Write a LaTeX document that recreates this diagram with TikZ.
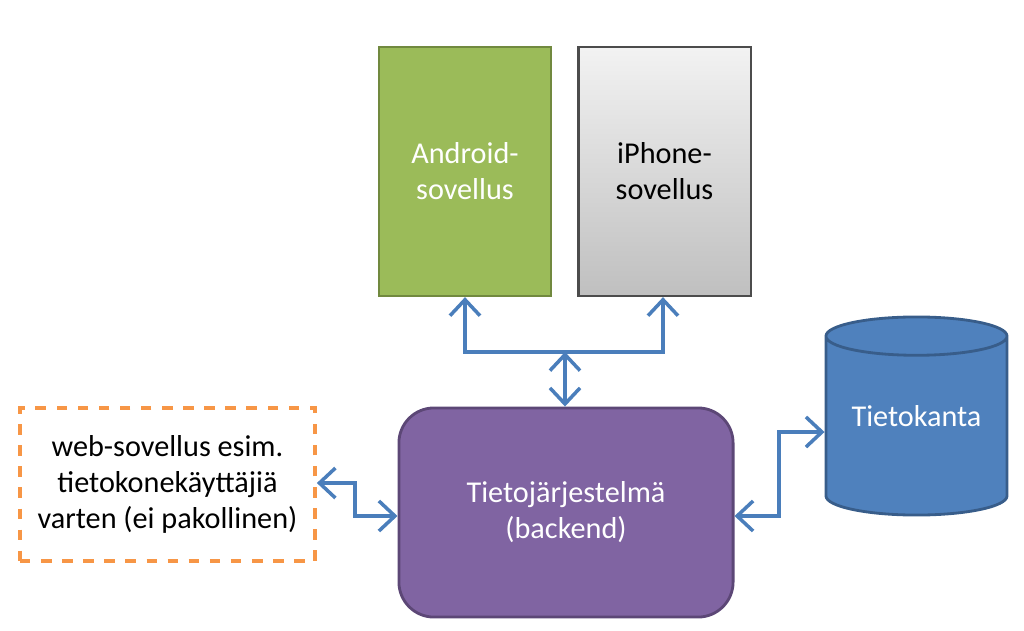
\documentclass[tikz,border=0pt]{standalone}
\usepackage{fontspec}
\setmainfont{Carlito}
\usetikzlibrary{positioning,arrows.meta,shapes.geometric}
\definecolor{andgreen}{HTML}{9BBB59}
\definecolor{andborder}{HTML}{71893F}
\definecolor{backpurple}{HTML}{8064A2}
\definecolor{backborder}{HTML}{5C4776}
\definecolor{dbblue}{HTML}{4F81BD}
\definecolor{dbtop}{HTML}{95B3D7}
\definecolor{dbborder}{HTML}{385D8A}
\definecolor{linkblue}{HTML}{4A7EBB}
\definecolor{weborange}{HTML}{F79646}
\begin{document}
\begin{tikzpicture}[x=0.01cm, y=-0.01cm,
app/.style={rectangle, draw, line width=0.6pt, minimum width=1.72cm, minimum height=2.49cm, align=center, font=\fontsize{8.6}{10.2}\selectfont},
link/.style={draw=linkblue, line width=1pt, {Straight Barb[length=1.6mm,width=3mm]}-{Straight Barb[length=1.6mm,width=3mm]}},
]
\useasboundingbox (0,0) rectangle (1024,630);

\node[app, fill=andgreen, draw=andborder, text=white] (android) at (465,171.5) {Android-\\sovellus};
\node[app, top color=gray!10, bottom color=gray!50, draw=black!70] (iphone) at (664.5,171.5) {iPhone-\\sovellus};
\node[rectangle, rounded corners=0.35cm, fill=backpurple, draw=backborder, line width=0.8pt, minimum width=3.34cm, minimum height=2.09cm, text=white, align=center, font=\fontsize{8.6}{10.2}\selectfont] (backend) at (566,512.5) {Tietojärjestelmä\\(backend)};
\node[cylinder, shape border rotate=90, aspect=0.25, fill=dbblue, draw=dbborder, line width=0.8pt, cylinder uses custom fill, cylinder body fill=dbblue, cylinder end fill=dbtop, minimum width=1.81cm, minimum height=1.98cm, text=white, font=\fontsize{8.6}{10.2}\selectfont] (db) at (916.5,431) {\raisebox{3mm}{Tietokanta}};
\node[rectangle, draw=weborange, dashed, line width=1pt, minimum width=2.95cm, minimum height=1.53cm, align=center, font=\fontsize{8.6}{10.2}\selectfont] (web) at (167.5,484.5) {web-sovellus esim.\\tietokonekäyttäjiä\\varten (ei pakollinen)};

\coordinate (split) at (565,352);
\draw[link] (android.south) -- (465,352) -- (663,352) -- (iphone.south -| 663,0);
\draw[link, {Straight Barb[length=1.6mm,width=3mm]}-{Straight Barb[length=1.6mm,width=3mm]}] (split) -- (split |- backend.north);
\draw[link] (web.east |- 0,483) -- (355,483) -- (355,516) -- (backend.west |- 0,516);
\draw[link] (backend.east |- 0,516) -- (779,516) -- (779,432) -- (db.west |- 0,432);
\end{tikzpicture}
\end{document}
